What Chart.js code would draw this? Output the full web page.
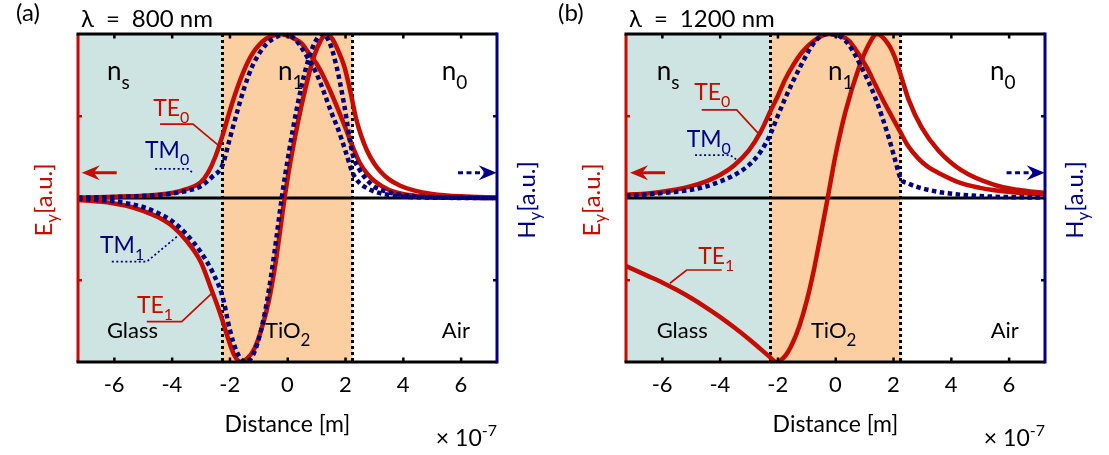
<!DOCTYPE html>
<html>
<head>
<meta charset="utf-8">
<title>Slab waveguide mode profiles</title>
<script src="https://cdn.jsdelivr.net/npm/chart.js@4.4.1/dist/chart.umd.min.js"></script>
<style>
  html, body { margin: 0; padding: 0; background: #fff; }
  #wrap { position: relative; width: 1109px; height: 455px; overflow: hidden; }
  canvas { position: absolute; top: 0; }
  #c800 { left: 0; }
  #c1200 { left: 548px; }
</style>
</head>
<body>
<div id="wrap">
  <canvas id="c800" width="555" height="455"></canvas>
  <canvas id="c1200" width="555" height="455"></canvas>
</div>
<script>
// ---- axis values (distance in units of 1e-7 m, fields normalised) ----
const xTicks = [-6, -4, -2, 0, 2, 4, 6];
const xLimits = [-7.25, 7.25];
const yLimits = [-1, 1];
const yMinorTicks = [-0.5, 0.5];
const layerEdges = [-7.25, -2.25, 2.25, 7.25];   // glass | TiO2 | air

// ---- lambda = 800 nm ----
const te0X_800 = [-7.25,-6.5,-6,-5.5,-5,-4.5,-4,-3.5,-3,-2.75,-2.5,-2.25,-2,-1.75,-1.5,-1.25,-1,-0.75,-0.5,-0.25,0,0.25,0.5,0.75,1,1.25,1.5,1.75,2,2.25,2.5,2.75,3,3.5,4,4.5,5,6,7.25];
const te0Y_800 = [0.003,0.005,0.007,0.01,0.014,0.02,0.03,0.054,0.097,0.155,0.25,0.38,0.53,0.665,0.78,0.87,0.93,0.97,0.99,1.0,0.99,0.97,0.94,0.88,0.82,0.74,0.645,0.54,0.43,0.315,0.215,0.15,0.105,0.05,0.024,0.012,0.006,0.002,0];

const te1X_800 = [-7.25,-6.5,-6,-5.5,-5,-4.5,-4,-3.5,-3,-2.65,-2.3,-2.05,-1.85,-1.62,-1.4,-1.15,-0.9,-0.65,-0.4,-0.1,0.1,0.36,0.65,0.93,1.15,1.34,1.55,1.75,1.97,2.2,2.38,2.55,2.75,3,3.2,3.5,3.9,4.4,5,6,7.25];
const te1Y_800 = [-0.012,-0.022,-0.033,-0.05,-0.078,-0.115,-0.17,-0.26,-0.39,-0.55,-0.72,-0.86,-0.955,-1.0,-0.98,-0.92,-0.8,-0.63,-0.38,0,0.22,0.46,0.69,0.87,0.96,1.0,0.97,0.9,0.8,0.63,0.48,0.38,0.29,0.21,0.165,0.115,0.075,0.045,0.025,0.01,0.003];

const tm0X_800 = [-7.25,-6.5,-6,-5,-4.5,-4,-3.5,-3,-2.6,-2.25,-2,-1.75,-1.5,-1.2,-0.75,-0.35,-0.1,0.25,0.75,1,1.25,1.5,1.75,2,2.25,2.5,2.75,3,3.5,4,5,7.25];
const tm0Y_800 = [0.002,0.004,0.006,0.012,0.018,0.027,0.043,0.072,0.13,0.2,0.36,0.52,0.67,0.81,0.935,0.985,1.0,0.97,0.84,0.76,0.65,0.53,0.42,0.29,0.155,0.09,0.06,0.04,0.018,0.008,0.002,0];

const tm1X_800 = [-7.25,-6.5,-6,-5.5,-5,-4.5,-4,-3.5,-3,-2.6,-2.25,-2,-1.75,-1.45,-1.2,-0.95,-0.7,-0.45,-0.2,0.05,0.35,0.65,0.95,1.2,1.45,1.7,1.95,2.25,2.5,2.75,3,3.5,4,5,7.25];
const tm1Y_800 = [-0.005,-0.012,-0.02,-0.035,-0.055,-0.09,-0.14,-0.22,-0.33,-0.45,-0.6,-0.8,-0.94,-1.0,-0.96,-0.83,-0.62,-0.33,0,0.28,0.57,0.8,0.95,1.0,0.95,0.8,0.58,0.27,0.17,0.11,0.07,0.035,0.017,0.005,0];

// ---- lambda = 1200 nm ----
const te0X_1200 = [-7.25,-6.5,-6,-5.5,-5,-4.5,-4,-3.5,-3,-2.6,-2.25,-2,-1.75,-1.5,-1.15,-0.7,-0.22,0.2,0.46,0.81,1.1,1.38,1.65,1.94,2.25,2.5,2.87,3.2,3.6,4.35,5,5.5,6.3,7.25];
const te0Y_1200 = [0.02,0.028,0.038,0.052,0.072,0.1,0.14,0.2,0.29,0.4,0.53,0.62,0.72,0.8,0.89,0.965,1.0,0.985,0.96,0.875,0.79,0.69,0.595,0.5,0.4,0.32,0.24,0.19,0.15,0.09,0.062,0.047,0.032,0.022];

const tm0X_1200 = [-7.25,-6.5,-6,-5,-4.5,-4,-3.5,-3,-2.6,-2.25,-2,-1.71,-1.25,-0.68,-0.22,0.2,0.46,0.92,1.38,1.84,2.05,2.25,2.5,2.87,3.2,3.7,4.35,5.5,7.25];
const tm0Y_1200 = [0.015,0.022,0.03,0.05,0.07,0.1,0.14,0.2,0.28,0.39,0.5,0.62,0.79,0.96,1.0,0.98,0.935,0.79,0.61,0.37,0.24,0.12,0.09,0.065,0.05,0.033,0.02,0.008,0.002];

const te1X_1200 = [-7.25,-6.5,-6,-5.5,-5,-4.5,-4,-3.5,-3,-2.6,-2.3,-2.05,-1.75,-1.5,-1.25,-1,-0.75,-0.5,-0.27,0,0.35,0.8,1.15,1.43,1.84,2.05,2.24,2.53,2.98,3.56,4.35,5.5,6.3,7.25];
const te1Y_1200 = [-0.415,-0.475,-0.515,-0.56,-0.61,-0.665,-0.725,-0.79,-0.86,-0.92,-0.965,-1.0,-0.965,-0.89,-0.78,-0.63,-0.44,-0.215,0,0.26,0.53,0.79,0.935,1.0,0.935,0.86,0.76,0.6,0.43,0.29,0.17,0.08,0.05,0.03];

// ---- styling ----
const RED = '#c40c00';
const NAVY = '#000080';
const GLASS_FILL = '#cee4e3';
const TIO2_FILL = '#fccfa3';
const FONT = 'Lato, "DejaVu Sans", sans-serif';

// draws a run of text pieces; kind 0 = normal, 1 = subscript, 2 = superscript
function drawParts(ctx, parts, x, y, color, size, align, subSize, subDrop) {
  const ss = subSize || Math.round(size * 0.72);
  const drop = subDrop != null ? subDrop : size * 0.32;
  const runs = parts.map(([t, k]) => ({
    t,
    size: k === 0 ? size : ss,
    dy: k === 1 ? drop : (k === 2 ? -size * 0.45 : 0)
  }));
  let w = 0;
  for (const r of runs) {
    ctx.font = `${r.size}px ${FONT}`;
    r.w = ctx.measureText(r.t).width;
    w += r.w;
  }
  let cx = align === 'center' ? x - w / 2 : (align === 'right' ? x - w : x);
  ctx.fillStyle = color;
  ctx.textAlign = 'left';
  ctx.textBaseline = 'alphabetic';
  for (const r of runs) {
    ctx.font = `${r.size}px ${FONT}`;
    ctx.fillText(r.t, cx, y + r.dy);
    cx += r.w;
  }
}

function seg(ctx, x0, y0, x1, y1) {
  ctx.beginPath(); ctx.moveTo(x0, y0); ctx.lineTo(x1, y1); ctx.stroke();
}

function arrowHead(ctx, tipX, y, dir, color) {
  // dir = -1 points left, +1 points right
  const len = 18, half = 7.5, notch = 12;
  ctx.fillStyle = color;
  ctx.beginPath();
  ctx.moveTo(tipX, y);
  ctx.lineTo(tipX - dir * len, y - half);
  ctx.lineTo(tipX - dir * notch, y);
  ctx.lineTo(tipX - dir * len, y + half);
  ctx.closePath();
  ctx.fill();
}

function decorPlugin(panel) {
  return {
    id: 'decor',
    beforeDatasetsDraw(chart) {
      const { ctx, chartArea: a, scales: { x, y } } = chart;
      ctx.save();
      const fills = [GLASS_FILL, TIO2_FILL, null];
      for (let i = 0; i < 3; i++) {
        if (!fills[i]) continue;
        const x0 = x.getPixelForValue(layerEdges[i]);
        const x1 = x.getPixelForValue(layerEdges[i + 1]);
        ctx.fillStyle = fills[i];
        ctx.fillRect(x0, a.top, x1 - x0, a.bottom - a.top);
      }
      // film interfaces
      ctx.strokeStyle = '#000';
      ctx.lineWidth = 3;
      ctx.setLineDash([3, 3]);
      for (const e of [layerEdges[1], layerEdges[2]]) {
        const px = x.getPixelForValue(e);
        seg(ctx, px, a.top, px, a.bottom);
      }
      // zero line
      ctx.setLineDash([]);
      const y0 = y.getPixelForValue(0);
      seg(ctx, a.left, y0, a.right, y0);
      ctx.restore();
    },
    afterDatasetsDraw(chart) {
      const { ctx, chartArea: a, scales: { x, y } } = chart;
      const px = v => x.getPixelForValue(v);
      const py = v => y.getPixelForValue(v);
      ctx.save();
      ctx.setLineDash([]);
      ctx.lineCap = 'butt';

      // frame
      ctx.lineWidth = 3;
      ctx.strokeStyle = RED;
      seg(ctx, a.left, a.top, a.left, a.bottom);
      ctx.strokeStyle = '#000';
      seg(ctx, a.left - 1.5, a.top, a.right, a.top);
      seg(ctx, a.left - 1.5, a.bottom, a.right, a.bottom);
      ctx.strokeStyle = NAVY;
      seg(ctx, a.right, a.top - 1.5, a.right, a.bottom + 1.5);

      // inward tick marks
      ctx.fillStyle = '#000';
      for (const t of xTicks) {
        const p = px(t);
        ctx.fillRect(p - 1, a.top + 1, 2.5, 3.5);
        ctx.fillRect(p - 1, a.bottom - 4.5, 2.5, 3.5);
      }
      for (const t of yMinorTicks) {
        const p = py(t);
        ctx.fillStyle = RED;
        ctx.fillRect(a.left + 1, p - 1, 3, 2.5);
        ctx.fillStyle = NAVY;
        ctx.fillRect(a.right - 4, p - 1, 3, 2.5);
      }

      // axis direction arrows
      const ay = py(panel.arrowY);
      ctx.strokeStyle = RED;
      ctx.lineWidth = 3;
      seg(ctx, px(panel.redArrow[0]), ay, px(panel.redArrow[1]) + 10, ay);
      arrowHead(ctx, px(panel.redArrow[1]), ay, -1, RED);
      ctx.strokeStyle = NAVY;
      ctx.setLineDash([5, 3.5]);
      seg(ctx, px(panel.blueArrow[0]), ay, px(panel.blueArrow[1]) - 12, ay);
      ctx.setLineDash([]);
      arrowHead(ctx, px(panel.blueArrow[1]), ay, 1, NAVY);

      // leader lines
      for (const l of panel.leaders) {
        ctx.strokeStyle = l.color;
        ctx.lineWidth = 1.7;
        ctx.setLineDash(l.dotted ? [2, 2.5] : []);
        ctx.beginPath();
        l.pts.forEach(([vx, vy], i) => {
          if (i === 0) ctx.moveTo(px(vx), py(vy)); else ctx.lineTo(px(vx), py(vy));
        });
        ctx.stroke();
      }
      ctx.setLineDash([]);

      // in-plot labels
      for (const t of panel.labels) {
        drawParts(ctx, t.parts, px(t.x), py(t.y), t.color, t.size, 'left', t.subSize, t.subDrop);
      }

      // panel tag and wavelength
      drawParts(ctx, [[panel.tag, 0]], panel.tagX, 21, '#000', 24, 'left');
      drawParts(ctx, [[panel.title, 0]], 81, 27, '#000', 24, 'left');

      // exponent note under the x axis
      drawParts(ctx, [['\u00d7 10', 0], ['-7', 2]], a.right, 446, '#000', 23, 'right', 16);

      // y-axis titles (rotated)
      const yMid = 200;
      ctx.save();
      ctx.translate(52, yMid);
      ctx.rotate(-Math.PI / 2);
      drawParts(ctx, [['E', 0], ['y', 1], ['[a.u.]', 0]], 0, 0, RED, 24, 'center', 17, 6);
      ctx.restore();
      ctx.save();
      ctx.translate(535, yMid);
      ctx.rotate(-Math.PI / 2);
      drawParts(ctx, [['H', 0], ['y', 1], ['[a.u.]', 0]], 0, 0, NAVY, 24, 'center', 17, 6);
      ctx.restore();

      ctx.restore();
    }
  };
}

function lineSet(name, xs, ys, color, dotted, axis, order) {
  return {
    label: name,
    data: xs.map((v, i) => ({ x: v, y: ys[i] })),
    borderColor: color,
    borderWidth: 4.5,
    borderDash: dotted ? [4.5, 3.5] : [],
    borderCapStyle: 'butt',
    pointRadius: 0,
    pointHoverRadius: 0,
    cubicInterpolationMode: 'monotone',
    fill: false,
    yAxisID: axis,
    order: order
  };
}

function buildPanel(canvasId, panel) {
  new Chart(document.getElementById(canvasId), {
    type: 'line',
    data: { datasets: panel.datasets },
    options: {
      responsive: false,
      animation: false,
      events: [],
      layout: { padding: { left: 78, right: 58, top: 34, bottom: 0 } },
      plugins: { legend: { display: false }, tooltip: { enabled: false } },
      scales: {
        x: {
          type: 'linear',
          position: 'bottom',
          min: xLimits[0],
          max: xLimits[1],
          afterBuildTicks: s => { s.ticks = xTicks.map(v => ({ value: v })); },
          afterFit: s => { s.height = 93; },
          grid: { display: false, drawTicks: false },
          border: { display: false },
          ticks: {
            color: '#000',
            font: { family: FONT, size: 22 },
            padding: 10,
            maxRotation: 0,
            autoSkip: false
          },
          title: {
            display: true,
            text: 'Distance [m]',
            color: '#000',
            font: { family: FONT, size: 23 },
            padding: { top: 0, bottom: 17 }
          }
        },
        y: { type: 'linear', min: yLimits[0], max: yLimits[1], display: false },
        y2: { type: 'linear', position: 'right', min: yLimits[0], max: yLimits[1], display: false }
      }
    },
    plugins: [decorPlugin(panel)]
  });
}

const black = '#000';
const mediumLabels = (edge) => [
  { parts: [['n', 0], ['s', 1]], x: edge.ns, y: 0.72, size: 26, subSize: 19, subDrop: 9, color: black },
  { parts: [['n', 0], ['1', 1]], x: edge.n1, y: 0.72, size: 26, subSize: 19, subDrop: 9, color: black },
  { parts: [['n', 0], ['0', 1]], x: edge.n0, y: 0.72, size: 26, subSize: 19, subDrop: 9, color: black },
  { parts: [['Glass', 0]], x: edge.glass, y: -0.854, size: 22, color: black },
  { parts: [['TiO', 0], ['2', 1]], x: edge.tio2, y: -0.854, size: 22, subSize: 17, subDrop: 8, color: black },
  { parts: [['Air', 0]], x: edge.air, y: -0.854, size: 22, color: black }
];

buildPanel('c800', {
  tag: '(a)', tagX: 16, title: '\u03bb\u2002=\u2002800 nm',
  arrowY: 0.154, redArrow: [-5.91, -7.12], blueArrow: [5.9, 7.24],
  datasets: [
    lineSet('TM0', tm0X_800, tm0Y_800, NAVY, true, 'y2', 0),
    lineSet('TM1', tm1X_800, tm1Y_800, NAVY, true, 'y2', 0),
    lineSet('TE0', te0X_800, te0Y_800, RED, false, 'y', 1),
    lineSet('TE1', te1X_800, te1Y_800, RED, false, 'y', 1)
  ],
  labels: mediumLabels({ ns: -6.25, n1: -0.33, n0: 5.34, glass: -6.25, tio2: -0.78, air: 5.34 }).concat([
    { parts: [['TE', 0], ['0', 1]], x: -4.65, y: 0.5, size: 23, subSize: 16, subDrop: 7, color: RED },
    { parts: [['TM', 0], ['0', 1]], x: -4.93, y: 0.244, size: 23, subSize: 16, subDrop: 7, color: NAVY },
    { parts: [['TM', 0], ['1', 1]], x: -6.49, y: -0.335, size: 23, subSize: 16, subDrop: 7, color: NAVY },
    { parts: [['TE', 0], ['1', 1]], x: -5.21, y: -0.70, size: 23, subSize: 16, subDrop: 7, color: RED }
  ]),
  leaders: [
    { pts: [[-4.41, 0.451], [-3.27, 0.451], [-2.40, 0.323]], color: RED, dotted: false },
    { pts: [[-4.58, 0.177], [-3.44, 0.177], [-3.27, 0.152]], color: NAVY, dotted: true },
    { pts: [[-6.08, -0.388], [-4.87, -0.388], [-3.83, -0.236]], color: NAVY, dotted: true },
    { pts: [[-4.87, -0.754], [-3.66, -0.754], [-2.62, -0.581]], color: RED, dotted: false }
  ]
});

buildPanel('c1200', {
  tag: '(b)', tagX: 10, title: '\u03bb\u2002=\u20021200 nm',
  arrowY: 0.154, redArrow: [-5.9, -7.11], blueArrow: [5.92, 7.24],
  datasets: [
    lineSet('TM0', tm0X_1200, tm0Y_1200, NAVY, true, 'y2', 0),
    lineSet('TE0', te0X_1200, te0Y_1200, RED, false, 'y', 1),
    lineSet('TE1', te1X_1200, te1Y_1200, RED, false, 'y', 1)
  ],
  labels: mediumLabels({ ns: -6.19, n1: -0.26, n0: 5.35, glass: -6.19, tio2: -0.85, air: 5.37 }).concat([
    { parts: [['TE', 0], ['0', 1]], x: -4.89, y: 0.6, size: 23, subSize: 16, subDrop: 7, color: RED },
    { parts: [['TM', 0], ['0', 1]], x: -5.15, y: 0.313, size: 23, subSize: 16, subDrop: 7, color: NAVY },
    { parts: [['TE', 0], ['1', 1]], x: -4.75, y: -0.4, size: 23, subSize: 16, subDrop: 7, color: RED }
  ]),
  leaders: [
    { pts: [[-4.63, 0.537], [-3.42, 0.537], [-2.68, 0.396]], color: RED, dotted: false },
    { pts: [[-4.86, 0.262], [-3.65, 0.262], [-3.41, 0.232]], color: NAVY, dotted: true },
    { pts: [[-3.94, -0.439], [-5.15, -0.439], [-5.73, -0.52]], color: RED, dotted: false }
  ]
});
</script>
</body>
</html>
